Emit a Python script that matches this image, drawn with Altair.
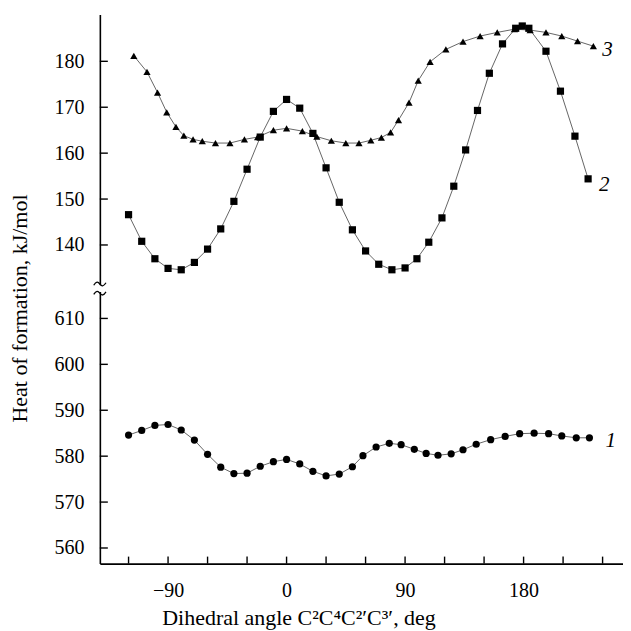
import altair as alt
import pandas as pd

# ---- data ----
series_names = ["1", "2", "3"]

angles1 = [-120, -110, -100, -90, -80, -70, -60, -50, -40, -30, -20, -10, 0, 10, 20, 30, 40, 50,
           58, 68, 78, 87, 97, 106, 115, 125, 134, 144, 155, 166, 177, 188, 199, 209, 220, 230]
heat1 = [584.6, 585.6, 586.7, 586.9, 585.7, 583.5, 580.4, 577.6, 576.2, 576.3, 577.8, 578.8, 579.3,
         578.3, 576.7, 575.7, 576.1, 577.7,
         580.1, 582.0, 582.8, 582.5, 581.5, 580.6, 580.2, 580.5, 581.4, 582.6, 583.6, 584.3, 584.9,
         585.0, 584.9, 584.4, 584.0, 584.0]

angles2 = [-120, -110, -100, -90, -80, -70, -60, -50, -40, -30, -20, -10, 0, 10, 20, 30, 40, 50,
           60, 70, 80, 90, 99, 108, 118, 127, 136, 145, 154, 164, 174, 179, 184, 197, 208, 219, 229]
heat2 = [146.6, 140.8, 137.0, 134.9, 134.6, 136.2, 139.1, 143.5, 149.5, 156.5, 163.5, 169.1, 171.7,
         169.8, 164.3, 156.8, 149.3, 143.3,
         138.7, 135.8, 134.6, 135.0, 137.0, 140.6, 145.9, 152.8, 160.7, 169.3, 177.4, 183.8,
         187.2, 187.7, 187.2, 182.2, 173.5, 163.7, 154.4]

angles3 = [-116, -106, -98, -91, -84, -78, -71, -64, -54, -43, -32, -22, -10, 0, 12, 23, 34, 45, 55,
           64, 72, 79, 85, 93, 100, 109, 121, 134, 147, 160, 173, 185, 197, 209, 221, 233]
heat3 = [181.2, 177.7, 173.2, 168.9, 165.7, 163.8, 163.0, 162.6, 162.2, 162.2, 163.0, 163.5, 165.0,
         165.4, 164.8, 163.6, 162.7, 162.2, 162.2, 162.8, 163.4, 164.5, 167.2, 171.0, 175.8, 179.9,
         182.6, 184.3, 185.5, 186.3, 187.0, 186.8, 186.3, 185.5, 184.4, 183.3]

x_ticks = [-120, -90, -60, -30, 0, 30, 60, 90, 120, 150, 180, 210, 240]
lower_ticks = [560, 570, 580, 590, 600, 610]
upper_ticks = [140, 150, 160, 170, 180]

# ---- axis break: the upper segment (series 2, 3) is shifted up on one scale ----
SHIFT = 486
X_DOMAIN = [-141.8, 255.5]
Y_DOMAIN = [556.6, 676.2]
BREAK = 616.5

rows = []
for name, a, v in zip(series_names, [angles1, angles2, angles3], [heat1, heat2, heat3]):
    for ai, vi in zip(a, v):
        rows.append({"series": name, "angle": ai, "heat": vi})
df = pd.DataFrame(rows)

y_ticks = lower_ticks + [t + SHIFT for t in upper_ticks]

W, H = 524, 550
FONT = "Liberation Serif"

xs = alt.Scale(domain=X_DOMAIN, nice=False, zero=False)
ys = alt.Scale(domain=Y_DOMAIN, nice=False, zero=False)

base = alt.Chart(df).transform_calculate(
    yplot=f"datum.series == '1' ? datum.heat : datum.heat + {SHIFT}"
)

lines = base.mark_line(color="#555555", strokeWidth=0.9).encode(
    x=alt.X("angle:Q", scale=xs, axis=alt.Axis(
        orient="bottom", values=x_ticks, ticks=False,
        labelExpr="datum.value % 90 == 0 ? datum.label : ''",
        labelPadding=17,
        titleX=199, titleY=61, titleAlign="center", titleBaseline="alphabetic",
        title="Dihedral angle C²C⁴C²′C³′, deg")),
    y=alt.Y("yplot:Q", scale=ys, axis=alt.Axis(
        orient="left", values=y_ticks, ticks=False,
        labelExpr=f"datum.value > {BREAK} ? '' + (datum.value - {SHIFT}) : datum.label",
        labelPadding=16,
        titleX=-80, titleY=294, titleAngle=270, titleAlign="center", titleBaseline="middle",
        title="Heat of formation, kJ/mol")),
    detail="series:N",
)

points = base.mark_point(filled=True, color="black", opacity=1).encode(
    x=alt.X("angle:Q", scale=xs, axis=None),
    y=alt.Y("yplot:Q", scale=ys, axis=None),
    shape=alt.Shape("series:N", scale=alt.Scale(domain=series_names,
                    range=["circle", "square", "triangle-up"]), legend=None),
    size=alt.Size("series:N", scale=alt.Scale(domain=series_names, range=[52, 52, 74]), legend=None),
)

# inward tick marks
xt = alt.Chart(pd.DataFrame({"t": x_ticks})).mark_rule(color="black", strokeWidth=1.4).encode(
    x=alt.X("t:Q", scale=xs, axis=None), y=alt.value(H), y2=alt.value(H - 7))
yt = alt.Chart(pd.DataFrame({"t": y_ticks})).mark_rule(color="black", strokeWidth=1.4).encode(
    y=alt.Y("t:Q", scale=ys, axis=None), x=alt.value(0), x2=alt.value(8))

label_offsets = {"1": (16, 3), "2": (11, 6), "3": (9, 4)}
labels = []
for name in series_names:
    dx, dy = label_offsets[name]
    labels.append(
        base.transform_filter(f"datum.series == '{name}'")
        .transform_window(rank="rank()", sort=[alt.SortField("angle", order="descending")])
        .transform_filter("datum.rank == 1")
        .mark_text(align="left", baseline="middle", dx=dx, dy=dy, font=FONT,
                   fontSize=21, fontStyle="italic", color="black")
        .encode(
            x=alt.X("angle:Q", scale=xs, axis=None),
            y=alt.Y("yplot:Q", scale=ys, axis=None),
            text="series:N",
        )
    )

# axis-break symbol: a white gap in the axis line with two wavy strokes
TILDE = "M -1 0.2 C -0.6 -0.45, -0.3 -0.4, 0 0 C 0.3 0.4, 0.6 0.45, 1 -0.2"
one = alt.Chart(pd.DataFrame({"k": [0]}))
gap = one.mark_rule(color="white", strokeWidth=6).encode(
    x=alt.X(datum=X_DOMAIN[0], scale=xs, axis=None),
    y=alt.Y(datum=BREAK + 0.75, scale=ys, axis=None),
    y2=alt.Y2(datum=BREAK - 0.75),
)
tilde_hi = one.mark_point(shape=TILDE, size=150, filled=False, color="black",
                          strokeWidth=1.3, opacity=1).encode(
    x=alt.X(datum=X_DOMAIN[0], scale=xs, axis=None),
    y=alt.Y(datum=BREAK + 1.0, scale=ys, axis=None),
)
tilde_lo = one.mark_point(shape=TILDE, size=150, filled=False, color="black",
                          strokeWidth=1.3, opacity=1).encode(
    x=alt.X(datum=X_DOMAIN[0], scale=xs, axis=None),
    y=alt.Y(datum=BREAK - 1.0, scale=ys, axis=None),
)

chart = alt.layer(lines, points, xt, yt, *labels, gap, tilde_hi, tilde_lo).resolve_axis(
    x="independent", y="independent"
).properties(
    width=W, height=H,
    autosize=alt.AutoSizeParams(type="none"),
    padding={"left": 92, "top": 6, "right": 0, "bottom": 66},
    background="white",
).configure_view(stroke=None).configure_axis(
    grid=False, domainColor="black", domainWidth=1.6, tickColor="black", tickWidth=1.4,
    tickSize=7, labelFont=FONT, labelFontSize=20, labelColor="black",
    titleFont=FONT, titleFontSize=22, titleFontWeight="normal", titleColor="black",
)

chart.save("out.html", embed_options={"renderer": "svg", "actions": False})
